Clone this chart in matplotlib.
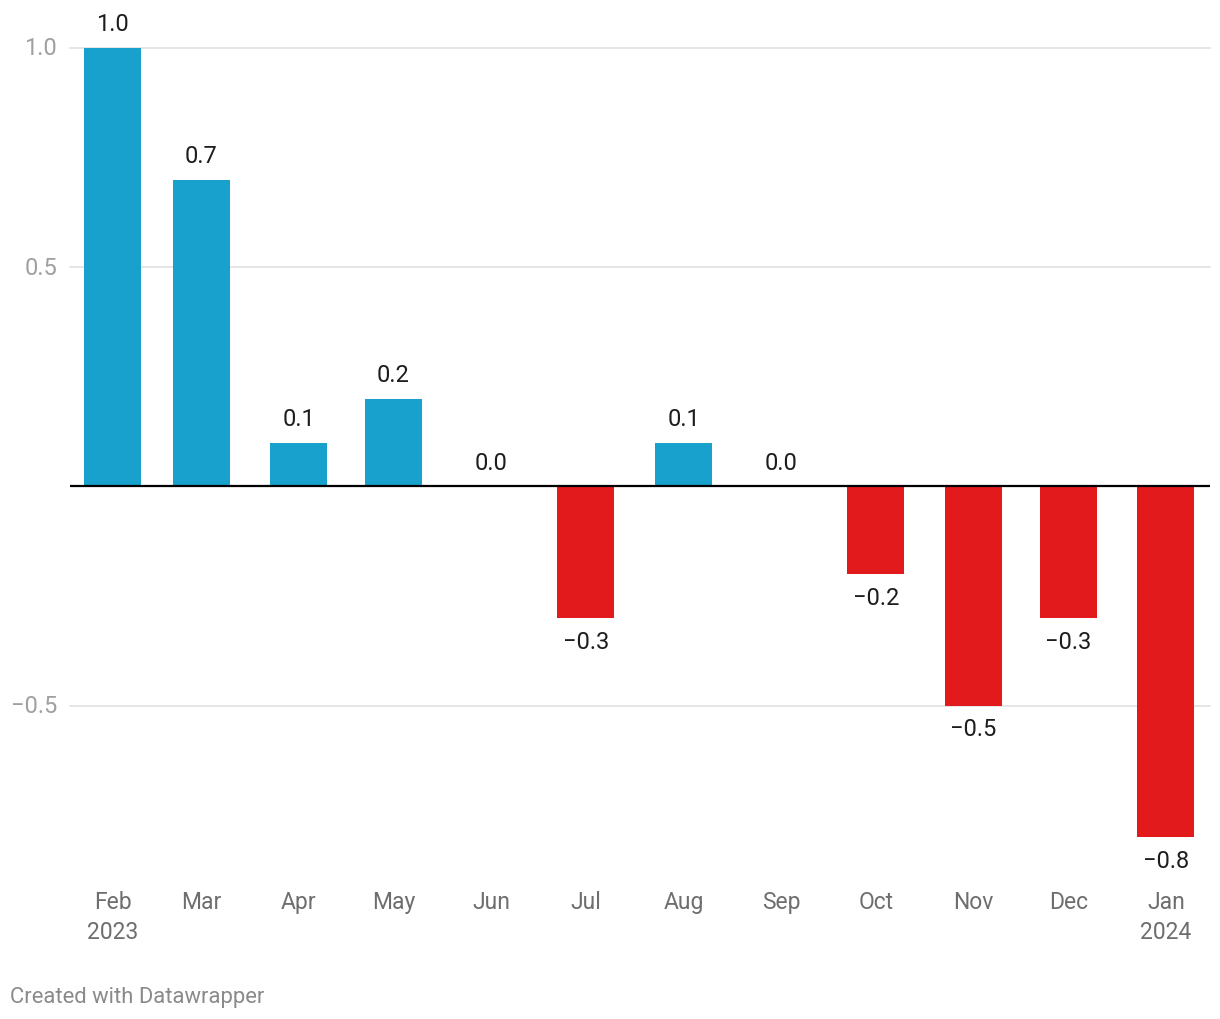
import matplotlib
matplotlib.use("Agg")
import matplotlib.pyplot as plt
import matplotlib.dates as mdates
import matplotlib.transforms as mtransforms
from datetime import date

plt.rcParams["font.family"] = ["Roboto", "DejaVu Sans"]

months = [date(2023, m, 1) for m in range(2, 13)] + [date(2024, 1, 1)]
month_labels = ["Feb\n2023", "Mar", "Apr", "May", "Jun", "Jul", "Aug",
                "Sep", "Oct", "Nov", "Dec", "Jan\n2024"]
values = [1.0, 0.7, 0.1, 0.2, 0.0, -0.3, 0.1, 0.0, -0.2, -0.5, -0.3, -0.8]
y_ticks = [-0.5, 0.5, 1.0]

BLUE = "#18a1cd"
RED = "#e31a1c"

fig = plt.figure(figsize=(12.2, 10.2), dpi=100)
ax = fig.add_axes([70 / 1220, (1020 - 838) / 1020, 1140 / 1220, 789 / 1020])

x = mdates.date2num(months)
colors = [BLUE if v >= 0 else RED for v in values]
ax.bar(x, values, width=18.1, color=colors, zorder=2)

ax.set_ylim(-0.8, 1.0)
ax.set_xlim(x[0] - 13.6, x[-1] + 14)

for yt in y_ticks:
    ax.axhline(yt, color="#e0e0e0", lw=1.2, zorder=1, clip_on=False)
ax.axhline(0, color="#000000", lw=1.6, zorder=3)

# подписи значений над/под столбцами
for xi, v in zip(x, values):
    s = f"{v:.1f}".replace("-", "\u2212")
    if v >= 0:
        ax.annotate(s, (xi, v), xytext=(0, 9), textcoords="offset points",
                    ha="center", va="bottom", fontsize=17, color="#1d1d1d")
    else:
        ax.annotate(s, (xi, v), xytext=(0, -8.5), textcoords="offset points",
                    ha="center", va="top", fontsize=17, color="#1d1d1d")

ytrans = mtransforms.blended_transform_factory(fig.transFigure, ax.transData)
for yt in y_ticks:
    ax.text(57 / 1220, yt, f"{yt:.1f}".replace("-", "\u2212"), transform=ytrans,
            ha="right", va="center", fontsize=17, color="#a0a0a0")

for xi, lab in zip(x, month_labels):
    ax.annotate(lab, (xi, -0.8), xytext=(0, -38), textcoords="offset points",
                ha="center", va="top", fontsize=16.5, color="#6e6e6e",
                linespacing=1.42, annotation_clip=False)

ax.set_xticks([])
ax.set_yticks([])
for sp in ax.spines.values():
    sp.set_visible(False)

fig.text(10 / 1220, 1 - 998 / 1020, "Created with Datawrapper", ha="left",
         va="center", fontsize=15.8, color="#8a8a8a")

fig.savefig("out.png", dpi=100)
